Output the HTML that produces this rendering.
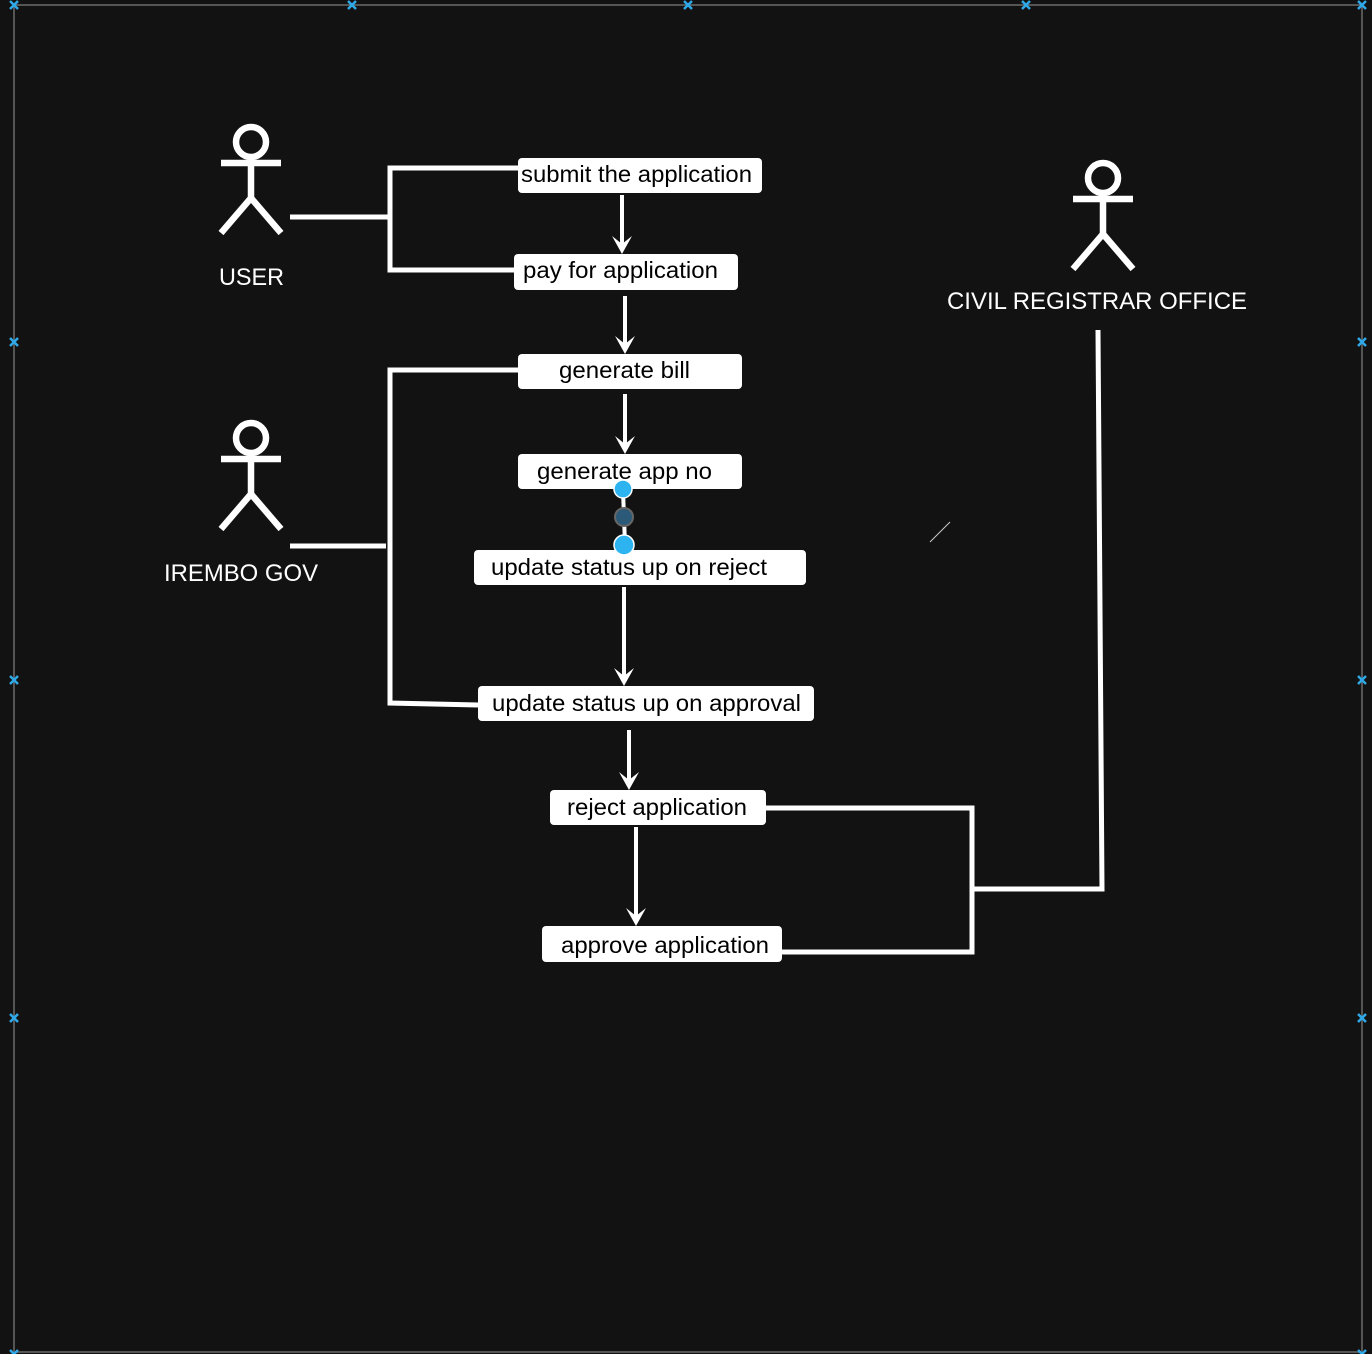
<!DOCTYPE html>
<html><head><meta charset="utf-8"><style>
html,body{margin:0;padding:0;background:#121212;}
svg{display:block;}
text{font-family:"Liberation Sans",Arial,sans-serif;}
</style></head><body>
<svg width="1372" height="1354" viewBox="0 0 1372 1354" xmlns="http://www.w3.org/2000/svg">
<rect width="1372" height="1354" fill="#121212"/>
<g stroke="#555" stroke-width="2" fill="none">
<line x1="14" y1="5" x2="1362" y2="5"/>
<line x1="14" y1="5" x2="14" y2="1354"/>
<line x1="1362" y1="5" x2="1362" y2="1354"/>
<line x1="14" y1="1352" x2="1362" y2="1352"/>
</g>
<g stroke="#2fa8e8" stroke-width="2.5">
<path d="M10 1l8 8M18 1l-8 8"/><path d="M348 1l8 8M356 1l-8 8"/><path d="M684 1l8 8M692 1l-8 8"/><path d="M1022 1l8 8M1030 1l-8 8"/><path d="M1358 1l8 8M1366 1l-8 8"/>
<path d="M10 338l8 8M18 338l-8 8"/><path d="M1358 338l8 8M1366 338l-8 8"/>
<path d="M10 676l8 8M18 676l-8 8"/><path d="M1358 676l8 8M1366 676l-8 8"/>
<path d="M10 1014l8 8M18 1014l-8 8"/><path d="M1358 1014l8 8M1366 1014l-8 8"/>
<path d="M10 1350l8 8M18 1350l-8 8"/><path d="M1358 1350l8 8M1366 1350l-8 8"/>
</g>
<g stroke="#fff" stroke-width="6.5" fill="none">
<circle cx="251" cy="142" r="15"/><line x1="221" y1="163" x2="281" y2="163"/><line x1="251" y1="157" x2="251" y2="198"/><path d="M221 233L251 198L281 233"/>
<circle cx="251" cy="438" r="15"/><line x1="221" y1="459" x2="281" y2="459"/><line x1="251" y1="453" x2="251" y2="494"/><path d="M221 529L251 494L281 529"/>
<circle cx="1103" cy="178" r="15"/><line x1="1073" y1="199" x2="1133" y2="199"/><line x1="1103" y1="193" x2="1103" y2="234"/><path d="M1073 269L1103 234L1133 269"/>
</g>
<g fill="#fff" font-size="24">
<text x="219" y="285" textLength="65" lengthAdjust="spacingAndGlyphs">USER</text>
<text x="164" y="581" textLength="154" lengthAdjust="spacingAndGlyphs">IREMBO GOV</text>
<text x="947" y="309" textLength="300" lengthAdjust="spacingAndGlyphs">CIVIL REGISTRAR OFFICE</text>
</g>
<g stroke="#fff" stroke-width="5" fill="none">
<path d="M290 217H388"/><path d="M518 168H390V270H514"/>
<path d="M290 546H386"/><path d="M518 370H390V703L478 705"/>
<path d="M1098 330L1102 889H973"/><path d="M766 808H972V952H782"/>
</g>
<g stroke="#fff" stroke-width="4" fill="none">
<line x1="622" y1="195" x2="622" y2="250"/>
<line x1="625" y1="296" x2="625" y2="350"/>
<line x1="625" y1="394" x2="625" y2="450"/>
<line x1="624" y1="587" x2="624" y2="682"/>
<line x1="629" y1="730" x2="629" y2="786"/>
<line x1="636" y1="827" x2="636" y2="922"/>
<line x1="623" y1="490" x2="625" y2="545"/>
</g>
<g fill="#fff">
<path d="M612 236L622 254L632 236L622 244Z"/>
<path d="M615 336L625 354L635 336L625 344Z"/>
<path d="M615 436L625 454L635 436L625 444Z"/>
<path d="M614 668L624 686L634 668L624 676Z"/>
<path d="M619 772L629 790L639 772L629 780Z"/>
<path d="M626 908L636 926L646 908L636 916Z"/>
</g>
<line x1="930" y1="542" x2="950" y2="522" stroke="#ccc" stroke-width="1"/>
<g fill="#fff">
<rect x="518" y="158" width="244" height="35" rx="4"/>
<rect x="514" y="254" width="224" height="36" rx="4"/>
<rect x="518" y="354" width="224" height="35" rx="4"/>
<rect x="518" y="454" width="224" height="35" rx="4"/>
<rect x="474" y="550" width="332" height="35" rx="4"/>
<rect x="478" y="686" width="336" height="35" rx="4"/>
<rect x="550" y="790" width="216" height="35" rx="4"/>
<rect x="542" y="926" width="240" height="36" rx="4"/>
</g>
<g fill="#000" font-size="23" lengthAdjust="spacingAndGlyphs">
<text x="521" y="182" textLength="231" lengthAdjust="spacingAndGlyphs">submit the application</text>
<text x="523" y="278" textLength="195" lengthAdjust="spacingAndGlyphs">pay for application</text>
<text x="559" y="378" textLength="131" lengthAdjust="spacingAndGlyphs">generate bill</text>
<text x="537" y="479" textLength="175" lengthAdjust="spacingAndGlyphs">generate app no</text>
<text x="491" y="575" textLength="276" lengthAdjust="spacingAndGlyphs">update status up on reject</text>
<text x="492" y="711" textLength="309" lengthAdjust="spacingAndGlyphs">update status up on approval</text>
<text x="567" y="815" textLength="180" lengthAdjust="spacingAndGlyphs">reject application</text>
<text x="561" y="953" textLength="208" lengthAdjust="spacingAndGlyphs">approve application</text>
</g>
<circle cx="624" cy="517" r="9" fill="#2a5a78" stroke="#666" stroke-width="2"/>
<circle cx="623" cy="489" r="9" fill="#2db4f0" stroke="#fff" stroke-width="1.5"/>
<circle cx="624" cy="545" r="10" fill="#2db4f0" stroke="#fff" stroke-width="1.5"/>
</svg>
</body></html>
